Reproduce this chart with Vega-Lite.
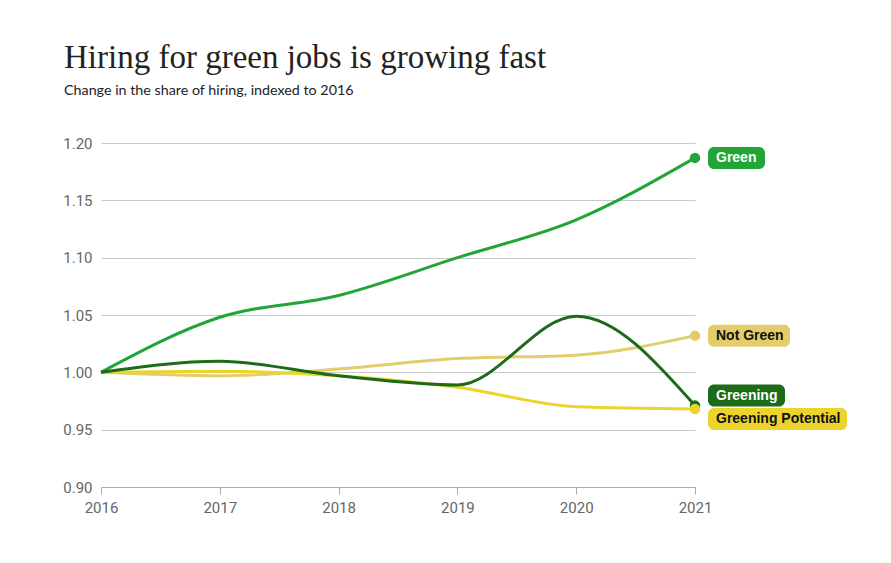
{
  "$schema": "https://vega.github.io/schema/vega-lite/v6.json",
  "width": 594,
  "height": 344,
  "autosize": {"type": "none"},
  "padding": {"left": 101, "top": 143, "right": 196, "bottom": 76},
  "background": "white",
  "title": {
    "text": "Hiring for green jobs is growing fast",
    "subtitle": "Change in the share of hiring, indexed to 2016",
    "anchor": "start",
    "frame": "group",
    "dx": -37,
    "offset": 38,
    "font": "Liberation Serif",
    "fontSize": 33,
    "fontWeight": "normal",
    "color": "#222222",
    "subtitleFont": "Lato",
    "subtitleFontSize": 14.3,
    "subtitleColor": "#222222",
    "subtitlePadding": 9
  },
  "config": {
    "view": {"stroke": null},
    "axis": {
      "labelFont": "Liberation Sans Narrow, Roboto",
      "labelFontSize": 15,
      "labelColor": "#666666",
      "title": null
    }
  },
  "data": {
    "values": [
      {"series": "Not Green", "year": 2016, "value": 1.0},
      {"series": "Not Green", "year": 2017, "value": 0.997},
      {"series": "Not Green", "year": 2018, "value": 1.003},
      {"series": "Not Green", "year": 2019, "value": 1.012},
      {"series": "Not Green", "year": 2020, "value": 1.015},
      {"series": "Not Green", "year": 2021, "value": 1.032},
      {"series": "Greening Potential", "year": 2016, "value": 1.0},
      {"series": "Greening Potential", "year": 2017, "value": 1.001},
      {"series": "Greening Potential", "year": 2018, "value": 0.997},
      {"series": "Greening Potential", "year": 2019, "value": 0.987},
      {"series": "Greening Potential", "year": 2020, "value": 0.970},
      {"series": "Greening Potential", "year": 2021, "value": 0.968},
      {"series": "Green", "year": 2016, "value": 1.0},
      {"series": "Green", "year": 2017, "value": 1.048},
      {"series": "Green", "year": 2018, "value": 1.067},
      {"series": "Green", "year": 2019, "value": 1.100},
      {"series": "Green", "year": 2020, "value": 1.133},
      {"series": "Green", "year": 2021, "value": 1.187},
      {"series": "Greening", "year": 2016, "value": 1.0},
      {"series": "Greening", "year": 2017, "value": 1.0096},
      {"series": "Greening", "year": 2018, "value": 0.997},
      {"series": "Greening", "year": 2019, "value": 0.989},
      {"series": "Greening", "year": 2020, "value": 1.049},
      {"series": "Greening", "year": 2021, "value": 0.971}
    ]
  },
  "encoding": {
    "x": {
      "field": "year",
      "type": "quantitative",
      "scale": {"domain": [2016, 2021], "nice": false, "zero": false},
      "axis": {
        "values": [2016, 2017, 2018, 2019, 2020, 2021],
        "format": "d",
        "grid": false,
        "labelFlush": false,
        "domainColor": "#aaaaaa",
        "tickColor": "#aaaaaa",
        "tickSize": 7,
        "labelPadding": 6
      }
    },
    "y": {
      "field": "value",
      "type": "quantitative",
      "scale": {"domain": [0.9, 1.2], "nice": false, "zero": false},
      "axis": {
        "values": [0.9, 0.95, 1.0, 1.05, 1.1, 1.15, 1.2],
        "format": ".2f",
        "domain": false,
        "ticks": false,
        "grid": true,
        "gridColor": "#c8c8c8",
        "labelPadding": 9
      }
    }
  },
  "layer": [
    {
      "mark": {"type": "line", "strokeWidth": 3, "interpolate": "monotone"},
      "encoding": {
        "color": {
          "field": "series",
          "type": "nominal",
          "scale": {
            "domain": ["Not Green", "Greening Potential", "Green", "Greening"],
            "range": ["#e3cd6b", "#ecd42c", "#22a537", "#1c6b17"]
          },
          "legend": null
        }
      }
    },
    {
      "transform": [{"filter": "datum.year == 2021"}],
      "mark": {"type": "point", "filled": true, "opacity": 1, "size": 110},
      "encoding": {
        "color": {"field": "series", "type": "nominal", "legend": null},
        "order": {"field": "value", "sort": "descending"}
      }
    },
    {
      "transform": [{"filter": "datum.year == 2021 && datum.series == 'Green'"}],
      "layer": [
        {
          "mark": {"type": "rect", "cornerRadius": 6, "color": "#22a537", "xOffset": 13, "x2Offset": 70, "yOffset": -11, "y2Offset": 11},
          "encoding": {"x2": {"field": "year"}, "y2": {"field": "value"}}
        },
        {
          "mark": {"type": "text", "align": "left", "baseline": "middle", "dx": 21, "font": "Liberation Sans", "fontWeight": "bold", "fontSize": 14, "color": "white"},
          "encoding": {"text": {"field": "series"}}
        }
      ]
    },
    {
      "transform": [{"filter": "datum.year == 2021 && datum.series == 'Not Green'"}],
      "layer": [
        {
          "mark": {"type": "rect", "cornerRadius": 6, "color": "#e3cd6b", "xOffset": 13, "x2Offset": 95, "yOffset": -11, "y2Offset": 11},
          "encoding": {"x2": {"field": "year"}, "y2": {"field": "value"}}
        },
        {
          "mark": {"type": "text", "align": "left", "baseline": "middle", "dx": 21, "font": "Liberation Sans", "fontWeight": "bold", "fontSize": 14, "color": "#111111"},
          "encoding": {"text": {"field": "series"}}
        }
      ]
    },
    {
      "transform": [{"filter": "datum.year == 2021 && datum.series == 'Greening'"}],
      "layer": [
        {
          "mark": {"type": "rect", "cornerRadius": 6, "color": "#1c6b17", "xOffset": 13, "x2Offset": 90, "yOffset": -21, "y2Offset": 1},
          "encoding": {"x2": {"field": "year"}, "y2": {"field": "value"}}
        },
        {
          "mark": {"type": "text", "align": "left", "baseline": "middle", "dx": 21, "dy": -10, "font": "Liberation Sans", "fontWeight": "bold", "fontSize": 14, "color": "white"},
          "encoding": {"text": {"field": "series"}}
        }
      ]
    },
    {
      "transform": [{"filter": "datum.year == 2021 && datum.series == 'Greening Potential'"}],
      "layer": [
        {
          "mark": {"type": "rect", "cornerRadius": 6, "color": "#ecd42c", "xOffset": 13, "x2Offset": 152, "yOffset": -1, "y2Offset": 21},
          "encoding": {"x2": {"field": "year"}, "y2": {"field": "value"}}
        },
        {
          "mark": {"type": "text", "align": "left", "baseline": "middle", "dx": 21, "dy": 10, "font": "Liberation Sans", "fontWeight": "bold", "fontSize": 14, "color": "#111111"},
          "encoding": {"text": {"field": "series"}}
        }
      ]
    }
  ]
}
